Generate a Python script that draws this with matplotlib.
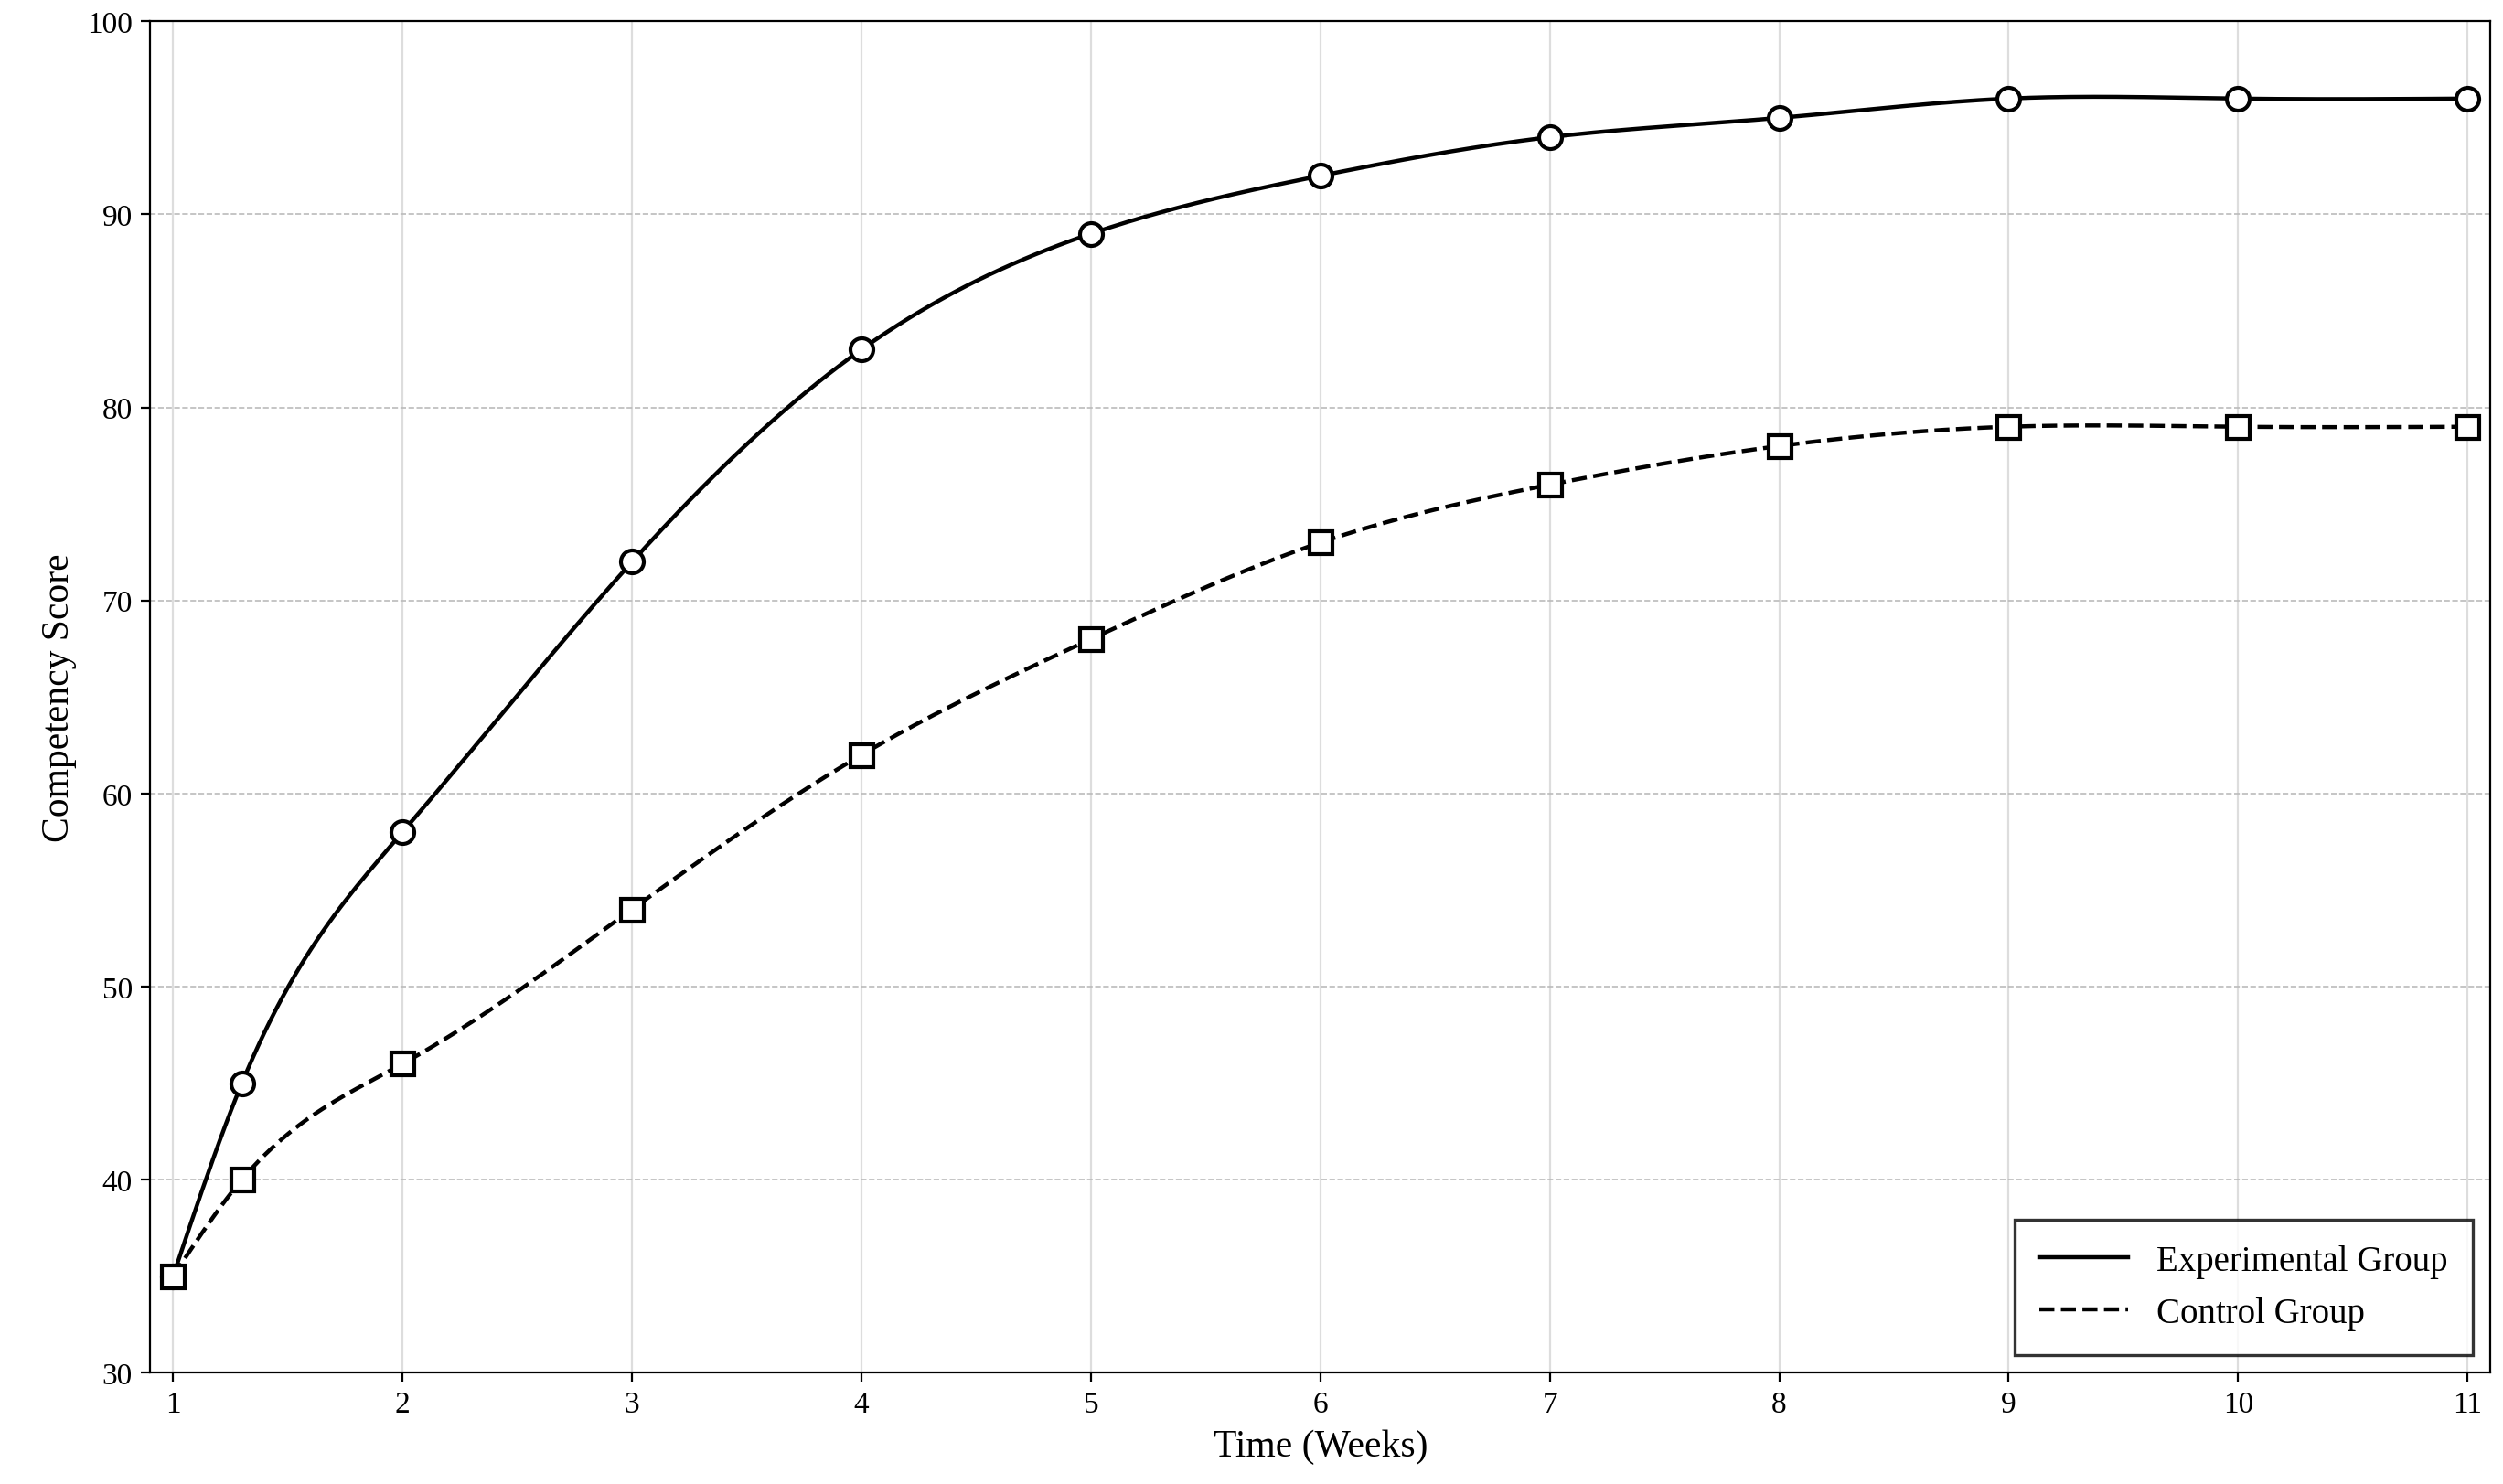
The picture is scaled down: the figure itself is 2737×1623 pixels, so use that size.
import matplotlib.pyplot as plt
import numpy as np

plt.rcParams['font.family'] = ['Liberation Serif', 'DejaVu Serif']

weeks = [1, 1.3, 2, 3, 4, 5, 6, 7, 8, 9, 10, 11]
experimental = [35, 45, 58, 72, 83, 89, 92, 94, 95, 96, 96, 96]
control = [35, 40, 46, 54, 62, 68, 73, 76, 78, 79, 79, 79]


def natural_spline(x, y, n=400):
    x = np.asarray(x, float)
    y = np.asarray(y, float)
    k = len(x)
    h = np.diff(x)
    A = np.zeros((k, k))
    b = np.zeros(k)
    A[0, 0] = A[-1, -1] = 1
    for i in range(1, k - 1):
        A[i, i - 1] = h[i - 1]
        A[i, i] = 2 * (h[i - 1] + h[i])
        A[i, i + 1] = h[i]
        b[i] = 6 * ((y[i + 1] - y[i]) / h[i] - (y[i] - y[i - 1]) / h[i - 1])
    m = np.linalg.solve(A, b)
    xs = np.linspace(x[0], x[-1], n)
    idx = np.clip(np.searchsorted(x, xs) - 1, 0, k - 2)
    x0, x1 = x[idx], x[idx + 1]
    hh = x1 - x0
    t0, t1 = x1 - xs, xs - x0
    ys = (m[idx] * t0**3 + m[idx + 1] * t1**3) / (6 * hh) \
        + (y[idx] / hh - m[idx] * hh / 6) * t0 \
        + (y[idx + 1] / hh - m[idx + 1] * hh / 6) * t1
    return xs, ys


fig, ax = plt.subplots(figsize=(13.685, 8.12), dpi=200)

xs, ys = natural_spline(weeks, experimental)
ax.plot(xs, ys, color='black', lw=1.6, label='Experimental Group')
ax.plot(weeks, experimental, 'o', ms=9, mfc='white', mec='black', mew=1.5)

xs, ys = natural_spline(weeks, control)
ax.plot(xs, ys, color='black', lw=1.6, ls='--', label='Control Group')
ax.plot(weeks, control, 's', ms=9, mfc='white', mec='black', mew=1.5)

ax.set_xlim(0.9, 11.1)
ax.set_ylim(30, 100)
ax.set_xticks(range(1, 12))
ax.set_yticks(range(30, 101, 10))
ax.tick_params(labelsize=12)
ax.grid(axis='x', color='#dddddd', lw=0.8)
ax.grid(axis='y', color='#bbbbbb', lw=0.6, ls='--')
ax.set_axisbelow(True)
ax.set_xlabel('Time (Weeks)', fontsize=15)
ax.set_ylabel('Competency Score', fontsize=15)
leg = ax.legend(loc='lower right', fontsize=14, fancybox=False, edgecolor='black',
                borderpad=0.7, handlelength=2.5)
leg.get_frame().set_linewidth(1.2)

fig.subplots_adjust(left=0.06, right=0.995, top=0.985, bottom=0.075)
fig.savefig('out.png')
